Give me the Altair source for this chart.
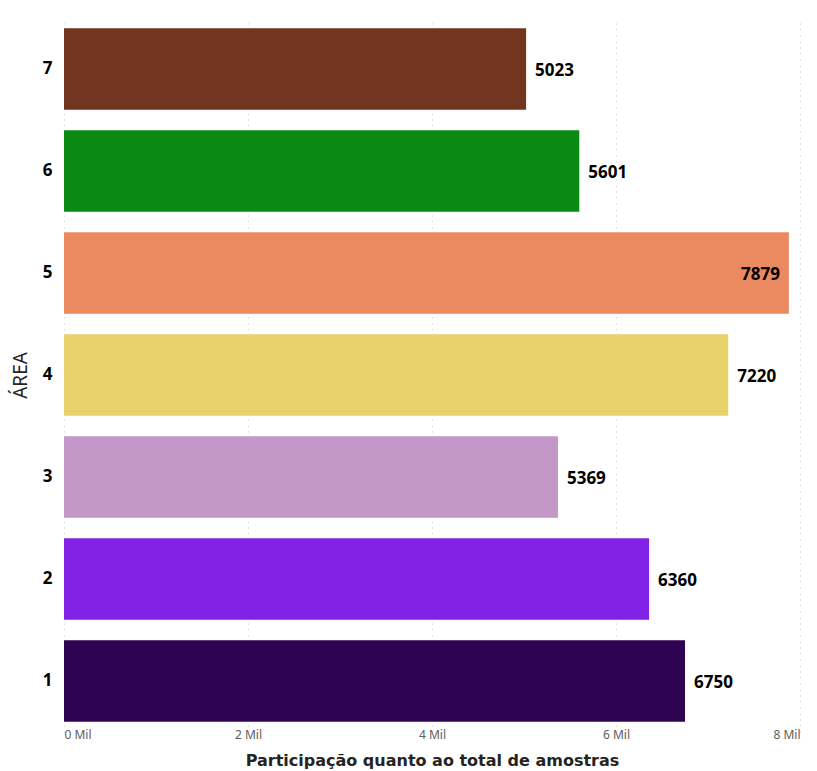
import altair as alt
import pandas as pd

areas = ["7", "6", "5", "4", "3", "2", "1"]
totals = [5023, 5601, 7879, 7220, 5369, 6360, 6750]
colors = ["#72351F", "#0A8A12", "#EB8A60", "#E8D26A", "#C497C9", "#8222E6", "#2E0352"]

df = pd.DataFrame({"area": areas, "total": totals, "cor": colors})

y_enc = alt.Y(
    "area:N",
    sort=areas,
    title="ÁREA",
    scale=alt.Scale(paddingInner=0.2, paddingOuter=0.1),
    axis=alt.Axis(
        domain=False, ticks=False, grid=False,
        labelFont="Noto Sans", labelFontSize=17, labelFontWeight="bold",
        labelColor="#000000", labelPadding=12,
        titleFont="Noto Sans", titleFontSize=19, titleFontWeight="normal",
        titleColor="#252423", titlePadding=12,
    ),
)

x_enc = alt.X(
    "total:Q",
    title="Participação quanto ao total de amostras",
    scale=alt.Scale(domain=[0, 8000], nice=False),
    axis=alt.Axis(
        values=[0, 2000, 4000, 6000, 8000],
        labelExpr="(datum.value / 1000) + ' Mil'",
        domain=False, ticks=False,
        grid=True, gridDash=[1, 5], gridColor="#C8C8C8", gridWidth=1,
        labelFont="Noto Sans", labelFontSize=12, labelColor="#605E5C",
        labelPadding=-3,
        titleFont="DejaVu Sans", titleFontSize=16, titleFontWeight="bold",
        titleColor="#252423", titlePadding=12,
    ),
)

bars = alt.Chart(df).mark_bar().encode(
    x=x_enc,
    y=y_enc,
    color=alt.Color("cor:N", scale=None),
)

label_style = dict(baseline="middle", dy=2, font="Noto Sans", fontSize=17,
                   fontWeight="bold", color="#000000")

outside = alt.Chart(df).transform_filter("datum.total < 7600").mark_text(
    align="left", dx=9, **label_style
).encode(x="total:Q", y=alt.Y("area:N", sort=areas), text=alt.Text("total:Q", format="d"))

inside = alt.Chart(df).transform_filter("datum.total >= 7600").mark_text(
    align="right", dx=-9, **label_style
).encode(x="total:Q", y=alt.Y("area:N", sort=areas), text=alt.Text("total:Q", format="d"))

chart = (
    alt.layer(bars, outside, inside)
    .properties(
        width=736, height=714,
        background="white",
        autosize=alt.AutoSizeParams(type="none"),
        padding={"left": 64, "top": 18, "right": 17, "bottom": 39},
    )
    .configure_view(strokeWidth=0)
)

chart.save("out.html", embed_options={"renderer": "svg", "actions": False})
